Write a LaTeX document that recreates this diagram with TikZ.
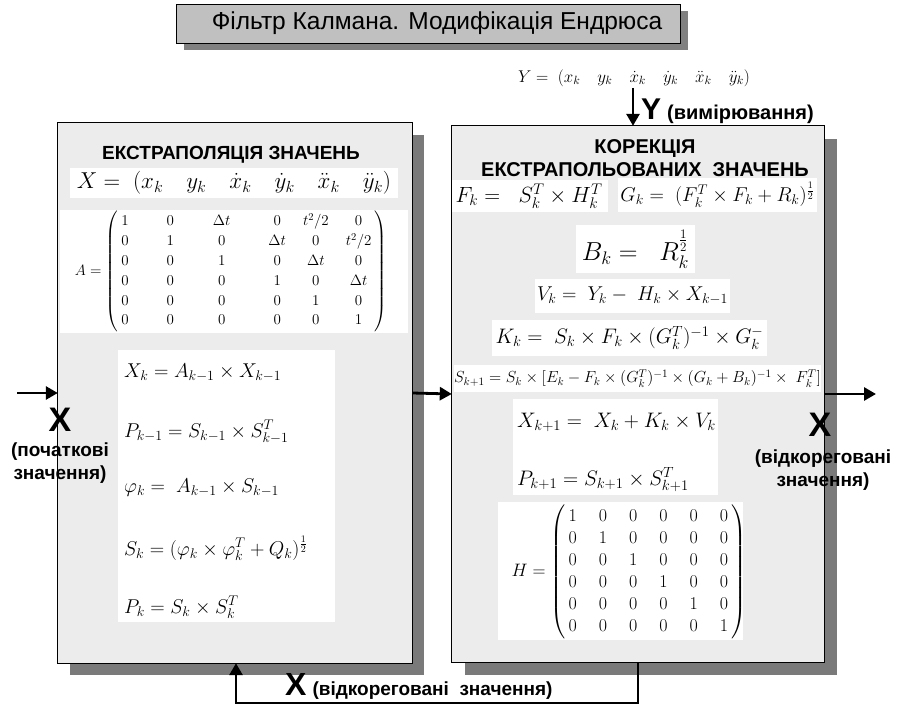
\RequirePackage{fix-cm}
\documentclass[tikz,border=0pt]{standalone}
\usepackage{amsmath}
\usepackage{fontspec}
\setmainfont{Liberation Sans}
\usetikzlibrary{arrows.meta}
\definecolor{panelfill}{HTML}{ECECEC}
\definecolor{shadowc}{HTML}{7A7A7A}
\definecolor{titlefill}{HTML}{C0C0C0}
\definecolor{titleshadow}{HTML}{808080}
\tikzset{
  panelbg/.style={fill=panelfill,draw=none,inner sep=0pt},
  titlebox/.style={fill=titlefill,draw=black,line width=0.8pt,inner sep=0pt,font=\fontsize{24.5}{26}\selectfont},
  wbox/.style={fill=white,draw=none,inner sep=0pt},
  eqn/.style={inner sep=0pt},
  hd/.style={inner sep=0pt,align=center,font=\fontsize{19}{23}\selectfont\bfseries},
  lbl/.style={inner sep=0pt,align=center,font=\fontsize{19}{23}\selectfont\bfseries},
  bigx/.style={inner sep=0pt,font=\fontsize{34}{34}\selectfont\bfseries},
  arr/.style={line width=2.8pt,-{Triangle[length=12pt,width=13pt]}},
}
\begin{document}
\begin{tikzpicture}[x=1pt,y=-1pt]
\useasboundingbox[fill=white] (0,0) rectangle (904,708);
% shadows
\fill[titleshadow] (184,11) rectangle (688,50);
\fill[shadowc] (70,135) rectangle (424,675);
\fill[shadowc] (465,139) rectangle (837,675);
% title
\node[titlebox,minimum width=504pt,minimum height=39pt] (title) at (428,23.5) {\hspace{18pt}Фільтр Калмана. Модифікація Ендрюса};
% Y vector
\node[eqn,font=\fontsize{17}{20}\selectfont] (yvec) at (634,78) {$Y = \;(x_k\quad y_k\quad \dot{x}_k\quad \dot{y}_k\quad \ddot{x}_k\quad \ddot{y}_k)$};
% panels
\node[panelbg,minimum width=354pt,minimum height=540pt] (left) at (235,393) {};
\node[panelbg,minimum width=372pt,minimum height=536pt] (right) at (638,394) {};
% ---- left panel content
\node[hd] (lhd) at (231,155) {ЕКСТРАПОЛЯЦІЯ ЗНАЧЕНЬ};
\node[wbox,minimum width=328pt,minimum height=30pt,font=\fontsize{23}{26}\selectfont] (xvec) at (234,183) {$X = \;(x_k\quad y_k\quad \dot{x}_k\quad \dot{y}_k\quad \ddot{x}_k\quad \ddot{y}_k)$};
\node[wbox,minimum width=348pt,minimum height=123pt] (abg) at (234,271.5) {};
\node[eqn,font=\fontsize{15}{18}\selectfont] (amat) at (231,271.5) {\renewcommand\arraystretch{1.1}$A = \left(\begin{array}{@{\hspace{3pt}}c@{\hspace{38pt}}c@{\hspace{39pt}}c@{\hspace{38pt}}c@{\hspace{17pt}}c@{\hspace{17pt}}c@{\hspace{3pt}}}
1 & 0 & \Delta t & 0 & t^2/2 & 0\\
0 & 1 & 0 & \Delta t & 0 & t^2/2\\
0 & 0 & 1 & 0 & \Delta t & 0\\
0 & 0 & 0 & 1 & 0 & \Delta t\\
0 & 0 & 0 & 0 & 1 & 0\\
0 & 0 & 0 & 0 & 0 & 1
\end{array}\right)$};
\node[wbox,minimum width=217pt,minimum height=272pt] (eqbg) at (226.5,486) {};
\begin{scope}[every node/.style={eqn,anchor=base west,font=\fontsize{20}{24}\selectfont}]
\node (e1) at (124,377) {$X_k = A_{k-1} \times X_{k-1}$};
\node (e2) at (124,437) {$P_{k-1} = S_{k-1} \times S_{k-1}^T$};
\node (e3) at (124,492) {$\varphi_k = \; A_{k-1} \times S_{k-1}$};
\node (e4) at (124,555) {$S_k = (\varphi_k \times \varphi_k^T + Q_k)^{\frac{1}{2}}$};
\node (e5) at (124,613) {$P_k = S_k \times S_k^T$};
\end{scope}
% ---- right panel content
\node[wbox,minimum width=158pt,minimum height=32pt,font=\fontsize{22}{26}\selectfont] (fk) at (529,196) {$F_k = \;\; S_k^T \times H_k^T$};
\node[wbox,minimum width=199pt,minimum height=34pt,font=\fontsize{20}{24}\selectfont] (gk) at (717.5,195) {$G_k = \; (F_k^T \times F_k + R_k)^{\frac{1}{2}}$};
\node[wbox,minimum width=119pt,minimum height=48pt,font=\fontsize{26}{30}\selectfont] (bk) at (635.5,249) {$B_k = \;\; R_k^{\frac{1}{2}}$};
\node[wbox,minimum width=195pt,minimum height=34pt,font=\fontsize{20}{24}\selectfont] (vk) at (632.5,296) {$V_k = \; Y_k - \; H_k \times X_{k-1}$};
\node[wbox,minimum width=275pt,minimum height=36pt,font=\fontsize{21}{25}\selectfont] (kk) at (629.5,338) {$K_k = \; S_k \times F_k \times (G_k^T)^{-1} \times G_k^{-}$};
\node[wbox,minimum width=365pt,minimum height=27pt,font=\fontsize{16}{19}\selectfont] (sk1) at (637.5,378.5) {$S_{k+1} = S_k \times [E_k - F_k \times (G_k^T)^{-1} \times (G_k + B_k)^{-1} \times\; F_k^T]$};
\node[wbox,minimum width=205pt,minimum height=96pt] (xpbg) at (615.5,447) {};
\node[eqn,anchor=base west,font=\fontsize{21}{25}\selectfont] (xk1) at (517,427) {$X_{k+1} = \; X_k + K_k \times V_k$};
\node[eqn,anchor=base west,font=\fontsize{21}{25}\selectfont] (pk1) at (517,485) {$P_{k+1} = S_{k+1} \times S_{k+1}^T$};
\node[wbox,minimum width=245pt,minimum height=138pt] (hbg) at (620.5,571) {};
\node[eqn,font=\fontsize{18}{21.6}\selectfont] (hmat) at (629,572) {\renewcommand\arraystretch{1.02}\setlength\arraycolsep{11pt}$H = \left(\begin{array}{@{\hspace{3pt}}cccccc@{\hspace{3pt}}}
1 & 0 & 0 & 0 & 0 & 0\\
0 & 1 & 0 & 0 & 0 & 0\\
0 & 0 & 1 & 0 & 0 & 0\\
0 & 0 & 0 & 1 & 0 & 0\\
0 & 0 & 0 & 0 & 1 & 0\\
0 & 0 & 0 & 0 & 0 & 1
\end{array}\right)$};
\node[hd,font=\fontsize{20}{23}\selectfont\bfseries] (rhd) at (645,158.5) {КОРЕКЦІЯ\\ЕКСТРАПОЛЬОВАНИХ\ \ ЗНАЧЕНЬ};
% ---- side labels
\node[bigx] (xin) at (60,420) {X};
\node[lbl] (xinl) at (60,463) {(початкові\\значення)};
\node[bigx] (xout) at (820,425) {X};
\node[lbl] (xoutl) at (823,470) {(відкореговані\\значення)};
% panel borders
\draw[line width=0.8pt] (left.north west) rectangle (left.south east);
\draw[line width=0.8pt] (right.north west) rectangle (right.south east);
% Y input label
\node[eqn,anchor=base west] (ylbl) at (641,120) {{\fontsize{30}{30}\selectfont\bfseries Y}\hspace{6pt}{\fontsize{20}{22}\selectfont\bfseries (вимірювання)}};
% bottom label
\node[eqn,anchor=base west] (fblbl) at (285,695) {{\fontsize{32}{32}\selectfont\bfseries X}\hspace{6pt}{\fontsize{19}{21}\selectfont\bfseries (відкореговані\ \ значення)}};
% connectors
\coordinate (xsrc) at (17,393);
\coordinate (xdst) at (876,394);
\coordinate (ysrc) at (633,88);
\coordinate (fb1) at (638,703);
\coordinate (fb2) at (236,703);
\draw[arr] (xsrc) -- (left.west);
\draw[arr] (left.east) -- (right.west);
\draw[arr] (right.east) -- (xdst);
\draw[arr] (ysrc) -- (ysrc |- right.north);
\draw[arr] (right.south) -- (fb1) -- (fb2) -- (fb2 |- left.south);
\end{tikzpicture}
\end{document}
